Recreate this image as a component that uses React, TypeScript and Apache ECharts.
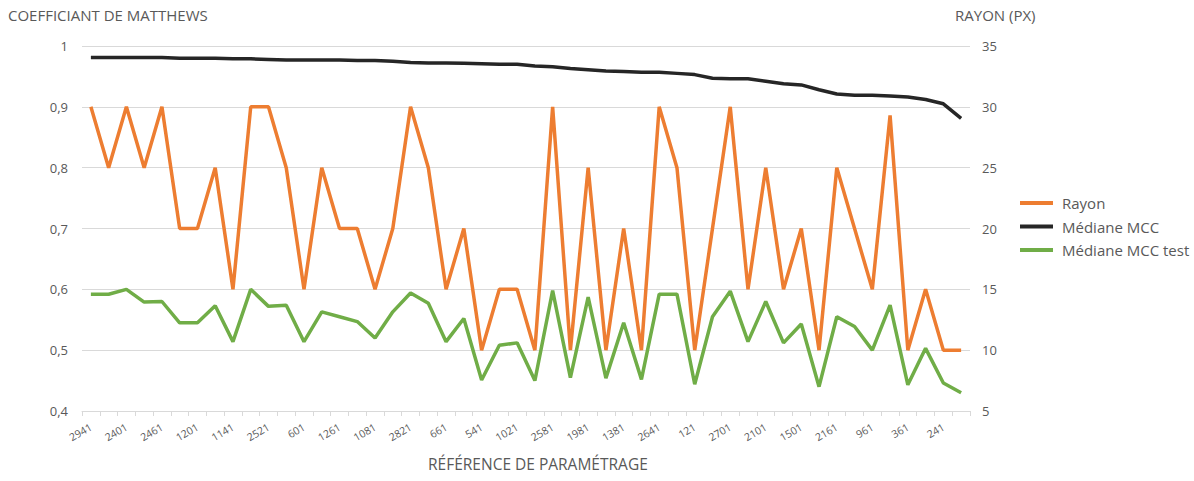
import React, { useEffect, useRef } from "react";
import * as echarts from "echarts";

const categories = [
  "2941", "2341", "2401", "1801", "2461", "1741", "1201", "1861", "1141", "2881",
  "2521", "1921", "601", "2281", "1261", "1681", "1081", "1621", "2821", "2221",
  "661", "1321", "541", "721", "1021", "481", "2581", "421", "1981", "61",
  "1381", "181", "2641", "2041", "121", "1441", "2701", "781", "2101", "841",
  "1501", "301", "2161", "1561", "961", "2761", "361", "901", "241", "1",
];

const rayon = [
  30, 25, 30, 25, 30, 20, 20, 25, 15, 30,
  30, 25, 15, 25, 20, 20, 15, 20, 30, 25,
  15, 20, 10, 15, 15, 10, 30, 10, 25, 10,
  20, 10, 30, 25, 10, 20, 30, 15, 25, 15,
  20, 10, 25, 20, 15, 29.3, 10, 15, 10, 10,
];

const medianeMCC = [
  0.981, 0.981, 0.981, 0.981, 0.981, 0.98, 0.98, 0.98, 0.979, 0.979,
  0.978, 0.977, 0.977, 0.977, 0.977, 0.976, 0.976, 0.975, 0.973, 0.972,
  0.972, 0.9715, 0.971, 0.970, 0.970, 0.967, 0.966, 0.963, 0.961, 0.959,
  0.958, 0.957, 0.957, 0.955, 0.953, 0.947, 0.946, 0.946, 0.942, 0.938,
  0.936, 0.928, 0.921, 0.919, 0.919, 0.918, 0.916, 0.912, 0.905, 0.881,
];

const medianeMCCTest = [
  0.592, 0.592, 0.6, 0.579, 0.58, 0.545, 0.545, 0.573, 0.514, 0.6,
  0.572, 0.574, 0.514, 0.563, 0.555, 0.547, 0.52, 0.563, 0.594, 0.577,
  0.514, 0.552, 0.451, 0.508, 0.512, 0.45, 0.598, 0.455, 0.587, 0.454,
  0.545, 0.452, 0.592, 0.592, 0.444, 0.555, 0.597, 0.514, 0.58, 0.512,
  0.543, 0.44, 0.555, 0.539, 0.5, 0.574, 0.443, 0.503, 0.446, 0.43,
];

const FONT = "'Open Sans', 'Noto Sans', sans-serif";
const TXT = "#595959";

export default function App() {
  const ref = useRef<HTMLDivElement>(null);
  useEffect(() => {
    if (!ref.current) return;
    const chart = echarts.init(ref.current, undefined, { renderer: "svg" });
    chart.setOption({
      animation: false,
      textStyle: { fontFamily: FONT },
      grid: { left: 82, right: 224, top: 46, bottom: 70, containLabel: false },
      legend: {
        orient: "vertical",
        left: 1020,
        top: 194,
        icon: "rect",
        itemWidth: 33,
        itemHeight: 4,
        itemGap: 5.5,
        padding: 0,
        textStyle: {
          color: TXT,
          fontSize: 15,
          fontFamily: FONT,
          lineHeight: 18,
          padding: [0, 0, 0, 4],
        },
        data: ["Rayon", "Médiane MCC", "Médiane MCC test"],
      },
      graphic: [
        {
          type: "text",
          left: 8,
          top: 7,
          style: { text: "COEFFICIANT DE MATTHEWS", fill: TXT, font: `15px ${FONT}` },
        },
        {
          type: "text",
          left: 955,
          top: 7,
          style: { text: "RAYON (PX)", fill: TXT, font: `15px ${FONT}` },
        },
        {
          type: "text",
          left: 428,
          top: 456,
          style: { text: "RÉFÉRENCE DE PARAMÉTRAGE", fill: TXT, font: `15.5px ${FONT}` },
        },
      ],
      xAxis: {
        type: "category",
        data: categories,
        boundaryGap: true,
        axisLine: { show: true, lineStyle: { color: "#d9d9d9", width: 1 } },
        axisTick: { show: true, interval: 0, length: 5, lineStyle: { color: "#d9d9d9" } },
        axisLabel: { interval: 1, rotate: 30, color: TXT, fontSize: 10.5, margin: 15, fontFamily: FONT },
        splitLine: { show: false },
      },
      yAxis: [
        {
          type: "value",
          min: 0.4,
          max: 1,
          interval: 0.1,
          axisLine: { show: false },
          axisTick: { show: false },
          axisLabel: {
            color: TXT,
            fontSize: 13,
            margin: 14,
            fontFamily: FONT,
            formatter: (v: number) => (Math.abs(v - 1) < 1e-9 ? "1" : v.toFixed(1).replace(".", ",")),
          },
          splitLine: { show: true, lineStyle: { color: "#d9d9d9", width: 1 } },
        },
        {
          type: "value",
          min: 5,
          max: 35,
          interval: 5,
          axisLine: { show: false },
          axisTick: { show: false },
          axisLabel: { color: TXT, fontSize: 13, margin: 12, fontFamily: FONT },
          splitLine: { show: false },
        },
      ],
      series: [
        {
          name: "Rayon",
          type: "line",
          yAxisIndex: 1,
          data: rayon,
          symbol: "none",
          lineStyle: { color: "#ED7D31", width: 3.5 },
          itemStyle: { color: "#ED7D31" },
          z: 3,
        },
        {
          name: "Médiane MCC",
          type: "line",
          yAxisIndex: 0,
          data: medianeMCC,
          symbol: "none",
          lineStyle: { color: "#262626", width: 3.5 },
          itemStyle: { color: "#262626" },
          z: 2,
        },
        {
          name: "Médiane MCC test",
          type: "line",
          yAxisIndex: 0,
          data: medianeMCCTest,
          symbol: "none",
          lineStyle: { color: "#70AD47", width: 3.5 },
          itemStyle: { color: "#70AD47" },
          z: 4,
        },
      ],
    });
    return () => chart.dispose();
  }, []);
  return <div ref={ref} style={{ width: 1194, height: 481, position: "absolute", left: 0, top: 0 }} />;
}
